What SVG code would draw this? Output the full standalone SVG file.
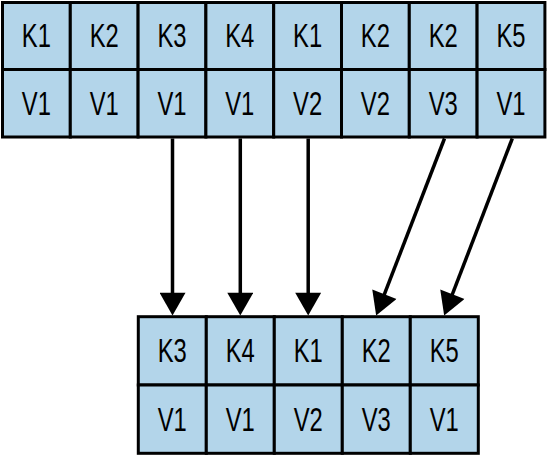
<svg xmlns="http://www.w3.org/2000/svg" width="549" height="456" viewBox="0 0 549 456">
<style>
.c{fill:#b3d5ea;stroke:#000;stroke-width:3}
.t{font-family:"Liberation Sans",Arial,sans-serif;font-size:34px;fill:#000;text-anchor:middle}
.a{stroke:#000;stroke-width:3.5;fill:none;marker-end:url(#ah)}
</style>
<defs>
<marker id="ah" markerUnits="userSpaceOnUse" markerWidth="24" markerHeight="26" viewBox="0 0 22 25" refX="12" refY="12.5" orient="auto">
<path d="M0,0 L22,12.5 L0,25 z" fill="#000"/>
</marker>
</defs>
<rect x="0" y="0" width="549" height="456" fill="#fff"/>
<g id="top-1"><rect class="c" x="2.5" y="2.5" width="67.8" height="67"/><rect class="c" x="2.5" y="69.5" width="67.8" height="67.5"/>
<text class="t" transform="translate(36.4,47) scale(0.7,1)">K1</text><text class="t" transform="translate(36.4,114.5) scale(0.7,1)">V1</text></g>
<g id="top-2"><rect class="c" x="70.3" y="2.5" width="67.8" height="67"/><rect class="c" x="70.3" y="69.5" width="67.8" height="67.5"/>
<text class="t" transform="translate(104.2,47) scale(0.7,1)">K2</text><text class="t" transform="translate(104.2,114.5) scale(0.7,1)">V1</text></g>
<g id="top-3"><rect class="c" x="138.1" y="2.5" width="67.8" height="67"/><rect class="c" x="138.1" y="69.5" width="67.8" height="67.5"/>
<text class="t" transform="translate(172,47) scale(0.7,1)">K3</text><text class="t" transform="translate(172,114.5) scale(0.7,1)">V1</text></g>
<g id="top-4"><rect class="c" x="205.9" y="2.5" width="67.8" height="67"/><rect class="c" x="205.9" y="69.5" width="67.8" height="67.5"/>
<text class="t" transform="translate(239.8,47) scale(0.7,1)">K4</text><text class="t" transform="translate(239.8,114.5) scale(0.7,1)">V1</text></g>
<g id="top-5"><rect class="c" x="273.7" y="2.5" width="67.8" height="67"/><rect class="c" x="273.7" y="69.5" width="67.8" height="67.5"/>
<text class="t" transform="translate(307.6,47) scale(0.7,1)">K1</text><text class="t" transform="translate(307.6,114.5) scale(0.7,1)">V2</text></g>
<g id="top-6"><rect class="c" x="341.5" y="2.5" width="67.8" height="67"/><rect class="c" x="341.5" y="69.5" width="67.8" height="67.5"/>
<text class="t" transform="translate(375.4,47) scale(0.7,1)">K2</text><text class="t" transform="translate(375.4,114.5) scale(0.7,1)">V2</text></g>
<g id="top-7"><rect class="c" x="409.3" y="2.5" width="67.8" height="67"/><rect class="c" x="409.3" y="69.5" width="67.8" height="67.5"/>
<text class="t" transform="translate(443.2,47) scale(0.7,1)">K2</text><text class="t" transform="translate(443.2,114.5) scale(0.7,1)">V3</text></g>
<g id="top-8"><rect class="c" x="477.1" y="2.5" width="67.8" height="67"/><rect class="c" x="477.1" y="69.5" width="67.8" height="67.5"/>
<text class="t" transform="translate(511,47) scale(0.7,1)">K5</text><text class="t" transform="translate(511,114.5) scale(0.7,1)">V1</text></g>

<g id="bottom-1"><rect class="c" x="138.3" y="316.7" width="68" height="68.3"/><rect class="c" x="138.3" y="385" width="68" height="68.3"/>
<text class="t" transform="translate(172.3,362) scale(0.7,1)">K3</text><text class="t" transform="translate(172.3,430.5) scale(0.7,1)">V1</text></g>
<g id="bottom-2"><rect class="c" x="206.3" y="316.7" width="68" height="68.3"/><rect class="c" x="206.3" y="385" width="68" height="68.3"/>
<text class="t" transform="translate(240.3,362) scale(0.7,1)">K4</text><text class="t" transform="translate(240.3,430.5) scale(0.7,1)">V1</text></g>
<g id="bottom-3"><rect class="c" x="274.3" y="316.7" width="68" height="68.3"/><rect class="c" x="274.3" y="385" width="68" height="68.3"/>
<text class="t" transform="translate(308.3,362) scale(0.7,1)">K1</text><text class="t" transform="translate(308.3,430.5) scale(0.7,1)">V2</text></g>
<g id="bottom-4"><rect class="c" x="342.3" y="316.7" width="68" height="68.3"/><rect class="c" x="342.3" y="385" width="68" height="68.3"/>
<text class="t" transform="translate(376.3,362) scale(0.7,1)">K2</text><text class="t" transform="translate(376.3,430.5) scale(0.7,1)">V3</text></g>
<g id="bottom-5"><rect class="c" x="410.3" y="316.7" width="68" height="68.3"/><rect class="c" x="410.3" y="385" width="68" height="68.3"/>
<text class="t" transform="translate(444.3,362) scale(0.7,1)">K5</text><text class="t" transform="translate(444.3,430.5) scale(0.7,1)">V1</text></g>

<g id="connectors">
<line class="a" x1="172.5" y1="138.5" x2="172.5" y2="305.2"/>
<line class="a" x1="240.3" y1="138.5" x2="240.3" y2="305.2"/>
<line class="a" x1="308.2" y1="138.5" x2="308.2" y2="305.2"/>
<line class="a" x1="444.5" y1="138.5" x2="379.9" y2="305.9"/>
<line class="a" x1="512.3" y1="138.5" x2="447.9" y2="305.9"/>
</g>
</svg>
